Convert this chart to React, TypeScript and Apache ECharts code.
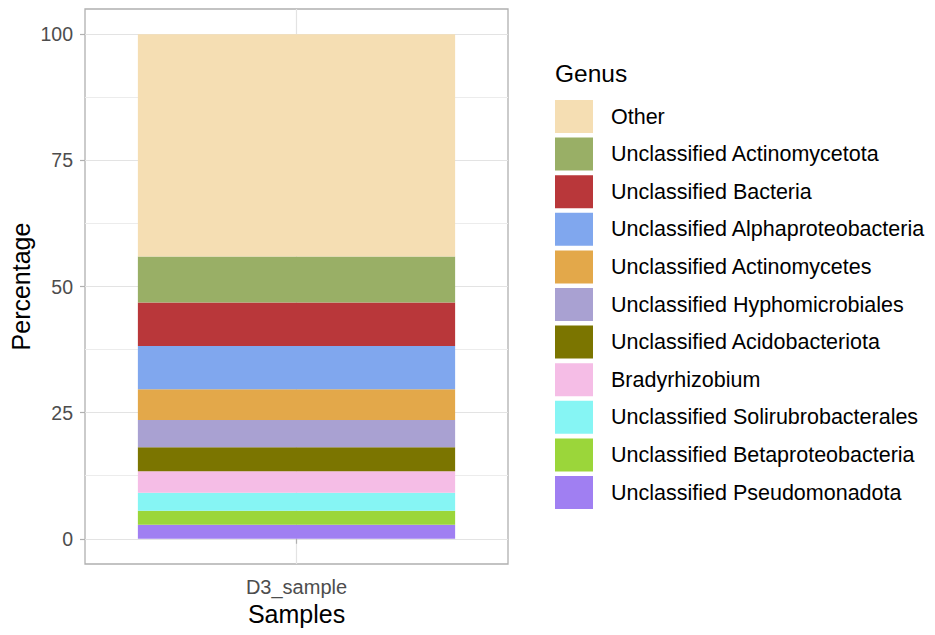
import React, { useEffect, useRef } from "react";
import * as echarts from "echarts";

const categories = ["D3_sample"];
const genera = [
  "Unclassified Pseudomonadota",
  "Unclassified Betaproteobacteria",
  "Unclassified Solirubrobacterales",
  "Bradyrhizobium",
  "Unclassified Acidobacteriota",
  "Unclassified Hyphomicrobiales",
  "Unclassified Actinomycetes",
  "Unclassified Alphaproteobacteria",
  "Unclassified Bacteria",
  "Unclassified Actinomycetota",
  "Other",
];
const percentages = [2.78, 2.78, 3.57, 4.23, 4.77, 5.42, 6.09, 8.59, 8.6, 9.12, 44.05];
const colors = [
  "#A07FF2",
  "#9BD63A",
  "#86F5F4",
  "#F5BDE6",
  "#7B7500",
  "#A9A1D2",
  "#E3A84A",
  "#80A7EE",
  "#B9373A",
  "#99AF66",
  "#F5DEB3",
];
const majorTicks = [0, 25, 50, 75, 100];
const minorTicks = [12.5, 37.5, 62.5, 87.5];

export default function App() {
  const ref = useRef<HTMLDivElement>(null);
  useEffect(() => {
    document.body.style.margin = "0";
    const chart = echarts.init(ref.current!, null, { renderer: "svg" });
    const font = "'Liberation Sans', Arial, sans-serif";
    const gridLines: any[] = [
      ...minorTicks.map((v) => ({ yAxis: v, lineStyle: { color: "#ececec", width: 1, type: "solid" } })),
      ...majorTicks.map((v) => ({ yAxis: v, lineStyle: { color: "#e3e3e3", width: 1.2, type: "solid" } })),
      { xAxis: categories[0], lineStyle: { color: "#e3e3e3", width: 1.2, type: "solid" } },
    ];
    chart.setOption({
      animation: false,
      textStyle: { fontFamily: font },
      grid: {
        left: 85,
        top: 9,
        width: 423,
        height: 555,
        show: true,
        borderColor: "#b0b0b0",
        borderWidth: 1.3,
        backgroundColor: "transparent",
      },
      graphic: [
        {
          type: "text",
          left: 555,
          top: 61,
          style: { text: "Genus", fontSize: 24.5, fill: "#000", fontFamily: font },
        },
      ],
      legend: {
        orient: "vertical",
        left: 550,
        top: 95,
        itemWidth: 38,
        itemHeight: 33,
        itemGap: 4.6,
        icon: "rect",
        data: [...genera].reverse(),
        textStyle: { fontSize: 21.5, color: "#000", fontFamily: font, padding: [0, 0, 0, 13] },
      },
      xAxis: {
        type: "category",
        data: categories,
        name: "Samples",
        nameLocation: "middle",
        nameGap: 36,
        nameTextStyle: { fontSize: 25, color: "#000", fontFamily: font },
        axisLine: { show: false },
        axisTick: { show: true, alignWithLabel: true, length: 5, lineStyle: { color: "#b0b0b0", width: 1.2 } },
        axisLabel: { fontSize: 20, color: "#4d4d4d", margin: 13, fontFamily: font },
        splitLine: { show: false },
      },
      yAxis: {
        type: "value",
        min: -5,
        max: 105,
        name: "Percentage",
        nameLocation: "middle",
        nameGap: 52,
        nameRotate: 90,
        nameTextStyle: { fontSize: 25, color: "#000", fontFamily: font },
        axisLine: { show: false },
        axisTick: { show: true, length: 5, customValues: majorTicks, lineStyle: { color: "#b0b0b0", width: 1.2 } },
        axisLabel: { fontSize: 19.5, color: "#4d4d4d", margin: 12, customValues: majorTicks, fontFamily: font },
        splitLine: { show: false },
      },
      series: [
        {
          name: "_grid",
          type: "line",
          data: [],
          z: 0,
          silent: true,
          markLine: {
            silent: true,
            z: 0,
            symbol: ["none", "none"],
            label: { show: false },
            data: gridLines,
          },
        },
        ...genera.map((g, i) => ({
          name: g,
          type: "bar",
          stack: "total",
          barWidth: "75%",
          z: 2,
          data: [percentages[i]],
          itemStyle: { color: colors[i] },
        })),
      ],
    });
    return () => chart.dispose();
  }, []);
  return <div ref={ref} style={{ width: 935, height: 635 }} />;
}
